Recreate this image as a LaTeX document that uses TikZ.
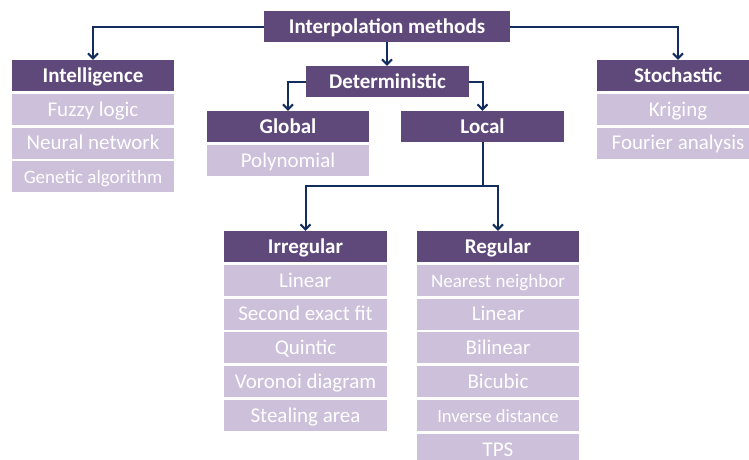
\documentclass[tikz,border=0pt]{standalone}
\usepackage{fontspec}
\setmainfont{Carlito}
\usetikzlibrary{arrows.meta}
\definecolor{headpurple}{RGB}{95,73,122}
\definecolor{itempurple}{RGB}{204,192,218}
\definecolor{linkblue}{RGB}{20,45,95}
\newcommand\fsmaller{\fontsize{19}{22}\selectfont}
\newcommand\fsmallest{\fontsize{18.6}{22}\selectfont}
\tikzset{
  head/.style={fill=headpurple, text=white, font=\fontsize{21}{24}\selectfont\bfseries,
    minimum width=162pt, minimum height=31pt, inner sep=0pt, text height=16pt, text depth=2.5pt},
  item/.style={fill=itempurple, text=white, font=\fontsize{21}{24}\selectfont,
    minimum width=162pt, minimum height=31pt, inner sep=0pt, text height=16pt, text depth=2.5pt},
  link/.style={draw=linkblue, line width=2pt},
  linkarrow/.style={link, -{Straight Barb[length=5pt,width=10pt]}},
}
\begin{document}
\begin{tikzpicture}[x=1pt, y=-1pt]
    \useasboundingbox (0,0) rectangle (749,459);
    \clip (0,0) rectangle (749,459);

    % Headers of the tree
    \node[head, minimum width=246pt] (interp) at (387,26.5) {Interpolation methods};
    \node[head] (intel) at (93,75.5) {Intelligence};
    \node[head, minimum width=163pt] (det) at (387.5,81.5) {Deterministic};
    \node[head] (stoch) at (678,75.5) {Stochastic};
    \node[head] (global) at (288,126.5) {Global};
    \node[head, minimum width=163pt] (local) at (482.5,126.5) {Local};
    \node[head, minimum width=163pt] (irreg) at (305.5,246.5) {Irregular};
    \node[head] (reg) at (498,246.5) {Regular};

    % Method lists below each header
    \foreach \txt [count=\i] in {Fuzzy logic, Neural network, {\fsmaller Genetic algorithm}}
        \node[item] (intel-\i) at (93,75.5+33.8*\i) {\txt};
    \foreach \txt [count=\i] in {Kriging, Fourier analysis}
        \node[item] (stoch-\i) at (678,75.5+33.8*\i) {\txt};
    \node[item] (global-1) at (288,160.3) {Polynomial};
    \foreach \txt [count=\i] in {Linear, Second exact fit, Quintic, Voronoi diagram, Stealing area}
        \node[item, minimum width=163pt] (irreg-\i) at (305.5,246.5+33.8*\i) {\txt};
    \foreach \txt [count=\i] in {{\fsmaller Nearest neighbor}, Linear, Bilinear, Bicubic,
                                 {\fsmallest Inverse distance}, TPS}
        \node[item] (reg-\i) at (498,246.5+33.8*\i) {\txt};

    % Connectors
    \draw[linkarrow] (interp.west) -| (intel.north);
    \draw[linkarrow] (interp.east) -| (stoch.north);
    \draw[linkarrow] (interp.south) -- (interp.south |- det.north);
    \draw[linkarrow] (det.west) -| (global.north);
    \draw[linkarrow] (det.east) -| (local.north);
    \coordinate (split) at (482.5,186);
    \draw[link] (local.south) -- (split);
    \draw[linkarrow] (split) -| (irreg.north);
    \draw[linkarrow] (split) -| (reg.north);
\end{tikzpicture}
\end{document}
